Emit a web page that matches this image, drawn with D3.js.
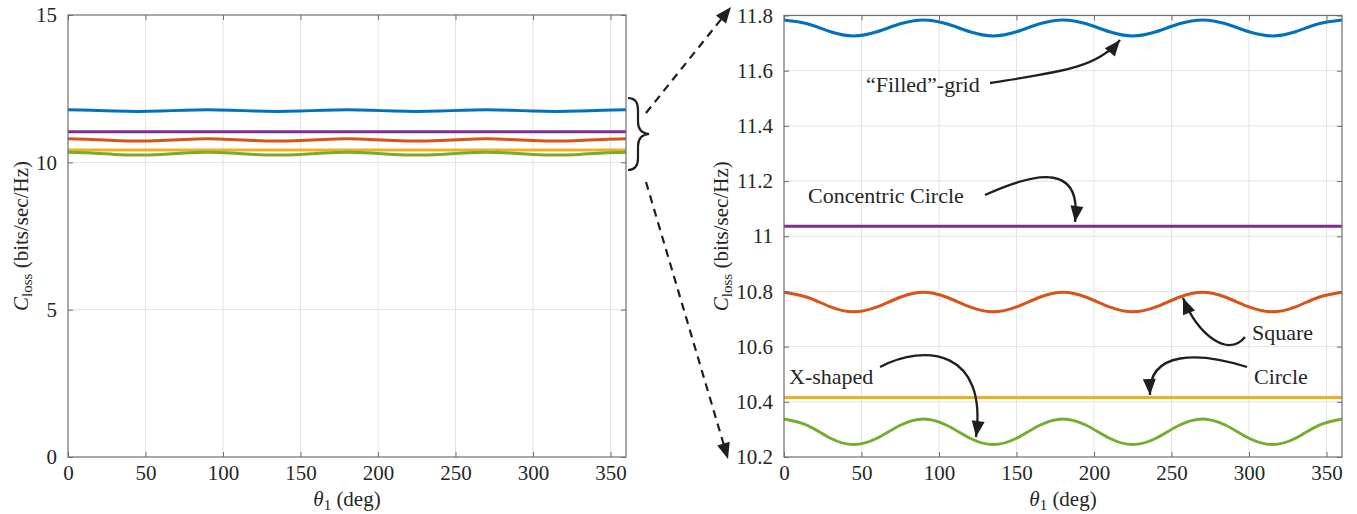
<!DOCTYPE html>
<html>
<head>
<meta charset="utf-8">
<script src="https://cdn.jsdelivr.net/npm/d3@7"></script>
<style>
  body { margin: 0; background: #fff; }
  svg text { font-family: "Liberation Serif", "Times New Roman", "DejaVu Serif", serif !important; fill: #262626; }
  .grid line { stroke: #e3e3e3; stroke-width: 1; }
  .frame { fill: none; stroke: #6e6e6e; stroke-width: 1.2; }
  .tick line { stroke: #6e6e6e; }
</style>
</head>
<body>
<svg id="chart" width="1357" height="514" font-family="Liberation Serif, serif"></svg>
<script>
// theta_1 samples (deg)
const theta = [0, 15, 30, 45, 60, 75, 90, 105, 120, 135, 150, 165, 180,
               195, 210, 225, 240, 255, 270, 285, 300, 315, 330, 345, 360];

// C_loss values (bits/sec/Hz)
const filledGrid = [11.784, 11.770, 11.741, 11.726, 11.741, 11.770, 11.784, 11.770, 11.741, 11.726, 11.741, 11.770,
                    11.784, 11.770, 11.741, 11.726, 11.741, 11.770, 11.784, 11.770, 11.741, 11.726, 11.741, 11.770, 11.784];
const concentric = [11.036, 11.036, 11.036, 11.036, 11.036, 11.036, 11.036, 11.036, 11.036, 11.036, 11.036, 11.036,
                    11.036, 11.036, 11.036, 11.036, 11.036, 11.036, 11.036, 11.036, 11.036, 11.036, 11.036, 11.036, 11.036];
const square     = [10.797, 10.779, 10.744, 10.726, 10.744, 10.779, 10.797, 10.779, 10.744, 10.726, 10.744, 10.779,
                    10.797, 10.779, 10.744, 10.726, 10.744, 10.779, 10.797, 10.779, 10.744, 10.726, 10.744, 10.779, 10.797];
const circle     = [10.416, 10.416, 10.416, 10.416, 10.416, 10.416, 10.416, 10.416, 10.416, 10.416, 10.416, 10.416,
                    10.416, 10.416, 10.416, 10.416, 10.416, 10.416, 10.416, 10.416, 10.416, 10.416, 10.416, 10.416, 10.416];
const xShaped    = [10.338, 10.315, 10.268, 10.245, 10.268, 10.315, 10.338, 10.315, 10.268, 10.245, 10.268, 10.315,
                    10.338, 10.315, 10.268, 10.245, 10.268, 10.315, 10.338, 10.315, 10.268, 10.245, 10.268, 10.315, 10.338];

const seriesNames = ["“Filled”-grid", "Concentric Circle", "Square", "Circle", "X-shaped"];
const seriesColors = ["#0072BD", "#7E2F8E", "#D95319", "#EDB120", "#77AC30"];
const allSeries = [filledGrid, concentric, square, circle, xShaped];

const xTicks = [0, 50, 100, 150, 200, 250, 300, 350];
const yTicksLeft = [0, 5, 10, 15];
const yTicksRight = [10.2, 10.4, 10.6, 10.8, 11, 11.2, 11.4, 11.6, 11.8];

const svg = d3.select("#chart");
const serif = "'Liberation Serif', 'Times New Roman', serif";

/**
 * Draws one MATLAB-style axes box with grid, ticks and the five lines
 */
function drawPanel(opts) {
    let x = d3.scaleLinear().domain([0, 360]).range([opts.left, opts.right]);
    let y = d3.scaleLinear().domain(opts.yDomain).range([opts.bottom, opts.top]);
    let g = svg.append("g");

    // grid
    let grid = g.append("g").attr("class", "grid");
    grid.selectAll(".gx").data(xTicks.slice(1)).enter().append("line")
        .attr("x1", d => x(d)).attr("x2", d => x(d))
        .attr("y1", opts.top).attr("y2", opts.bottom);
    grid.selectAll(".gy").data(opts.yTicks.slice(1, -1)).enter().append("line")
        .attr("y1", d => y(d)).attr("y2", d => y(d))
        .attr("x1", opts.left).attr("x2", opts.right);

    // lines
    let line = d3.line()
        .x((d, i) => x(theta[i]))
        .y(d => y(d))
        .curve(d3.curveNatural);
    g.selectAll(".series").data(allSeries).enter().append("path")
        .attr("d", d => line(d))
        .attr("fill", "none")
        .attr("stroke", (d, i) => seriesColors[i])
        .attr("stroke-width", opts.lw);

    // axes (bottom/left with labels, top/right mirror ticks)
    let tickLen = 5;
    let xb = d3.axisBottom(x).tickValues(xTicks).tickSize(-tickLen).tickPadding(8).tickFormat(d3.format("d"));
    let xt = d3.axisTop(x).tickValues(xTicks).tickSize(-tickLen).tickFormat("");
    let yl = d3.axisLeft(y).tickValues(opts.yTicks).tickSize(-tickLen).tickPadding(11).tickFormat(opts.fmt);
    let yr = d3.axisRight(y).tickValues(opts.yTicks).tickSize(-tickLen).tickFormat("");

    [[xb, `translate(0,${opts.bottom})`], [xt, `translate(0,${opts.top})`],
     [yl, `translate(${opts.left},0)`], [yr, `translate(${opts.right},0)`]].forEach(function (a) {
        let ag = g.append("g").attr("transform", a[1]).call(a[0]);
        ag.attr("font-family", serif).attr("font-size", 21);
        ag.select(".domain").remove();
        ag.selectAll("text").attr("fill", "#262626");
    });

    g.append("rect").attr("class", "frame")
        .attr("x", opts.left).attr("y", opts.top)
        .attr("width", opts.right - opts.left).attr("height", opts.bottom - opts.top);

    // axis titles
    let xl = g.append("text")
        .attr("x", (opts.left + opts.right) / 2).attr("y", 506)
        .attr("text-anchor", "middle").attr("font-size", 21);
    xl.append("tspan").attr("font-style", "italic").text("θ");
    xl.append("tspan").attr("font-size", 15).attr("dy", 4).text("1");
    xl.append("tspan").attr("dy", -4).text(" (deg)");

    let yt = g.append("text")
        .attr("transform", `translate(${opts.ytitleX},${(opts.top + opts.bottom) / 2}) rotate(-90)`)
        .attr("text-anchor", "middle").attr("font-size", 21);
    yt.append("tspan").attr("font-style", "italic").text("C");
    yt.append("tspan").attr("font-size", 15).attr("dy", 4).text("loss");
    yt.append("tspan").attr("dy", -4).text(" (bits/sec/Hz)");

    return {x: x, y: y};
}

drawPanel({left: 68, right: 626, top: 15, bottom: 457, yDomain: [0, 15],
           yTicks: yTicksLeft, fmt: d3.format("d"), lw: 3, ytitleX: 28});
drawPanel({left: 784, right: 1342, top: 15.5, bottom: 457, yDomain: [10.2, 11.8],
           yTicks: yTicksRight, fmt: d => (d === 11 ? "11" : d3.format(".1f")(d)), lw: 3, ytitleX: 728});

// annotations
const ink = "#1f1f1f";
const ann = svg.append("g");

function arrowHead(tip, from, len, wid) {
    let dx = tip[0] - from[0], dy = tip[1] - from[1];
    let L = Math.sqrt(dx * dx + dy * dy);
    let ux = dx / L, uy = dy / L;
    let bx = tip[0] - ux * len, by = tip[1] - uy * len;
    ann.append("path")
        .attr("d", `M${tip[0]},${tip[1]} L${bx - uy * wid / 2},${by + ux * wid / 2} L${bx + uy * wid / 2},${by - ux * wid / 2} Z`)
        .attr("fill", ink);
}

// brace
ann.append("path")
    .attr("d", "M628,98 Q638,98 638,110 L638,122 Q638,133 649,134 Q638,135 638,146 L638,158 Q638,170 628,170")
    .attr("fill", "none").attr("stroke", ink).attr("stroke-width", 2.2);

// dashed zoom arrows
[[[646, 113], [731, 7]], [[646, 182], [728, 459]]].forEach(function (a) {
    let s = a[0], t = a[1];
    let dx = t[0] - s[0], dy = t[1] - s[1], L = Math.sqrt(dx * dx + dy * dy);
    ann.append("line")
        .attr("x1", s[0]).attr("y1", s[1])
        .attr("x2", t[0] - dx / L * 12).attr("y2", t[1] - dy / L * 12)
        .attr("stroke", ink).attr("stroke-width", 2.2).attr("stroke-dasharray", "8,6");
    arrowHead(t, s, 16, 13);
});

// curved label arrows: start, c1, c2, tip
const curved = [
    [[990, 83], [1060, 72], [1097, 68], [1120, 40]],
    [[985, 195], [1040, 170], [1082, 165], [1075, 222]],
    [[1245, 337], [1228, 358], [1198, 335], [1183, 298]],
    [[1247, 367], [1200, 352], [1148, 350], [1150, 395]],
    [[880, 367], [925, 343], [988, 350], [976, 437]]
];
curved.forEach(function (c) {
    ann.append("path")
        .attr("d", `M${c[0]} C${c[1]} ${c[2]} ${c[3]}`)
        .attr("fill", "none").attr("stroke", ink).attr("stroke-width", 2.3);
    arrowHead(c[3], c[2], 16, 13);
});

const labelPos = [[866, 92], [808, 203], [1252, 340], [1254, 384], [789, 384]];
ann.selectAll(".lbl").data(seriesNames).enter().append("text")
    .attr("x", (d, i) => labelPos[i][0]).attr("y", (d, i) => labelPos[i][1])
    .attr("font-size", 22)
    .text(d => d);
</script>
</body>
</html>
